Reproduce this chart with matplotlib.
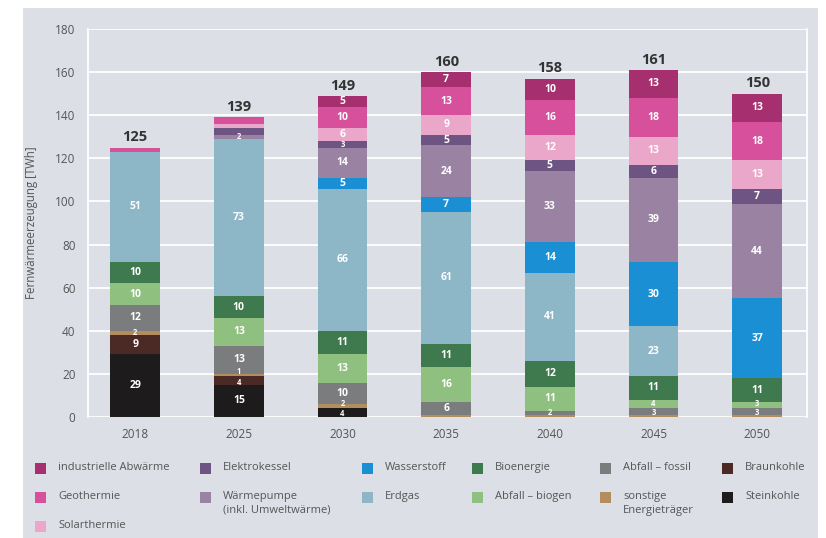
import matplotlib
matplotlib.use("Agg")
import matplotlib.pyplot as plt
from matplotlib.patches import Rectangle
import numpy as np

plt.rcParams['font.family'] = ['Open Sans', 'DejaVu Sans']

years = ["2018", "2025", "2030", "2035", "2040", "2045", "2050"]
totals = [125, 139, 149, 160, 158, 161, 150]

# series, bottom to top
steinkohle   = [29, 15, 4, 0, 0, 0, 0]
braunkohle   = [9, 4, 0, 0, 0, 0, 0]
sonstige     = [2, 1, 2, 1, 1, 1, 1]
abfall_foss  = [12, 13, 10, 6, 2, 3, 3]
abfall_bio   = [10, 13, 13, 16, 11, 4, 3]
bioenergie   = [10, 10, 11, 11, 12, 11, 11]
erdgas       = [51, 73, 66, 61, 41, 23, 0]
wasserstoff  = [0, 0, 5, 7, 14, 30, 37]
waermepumpe  = [0, 2, 14, 24, 33, 39, 44]
elektro      = [0, 3, 3, 5, 5, 6, 7]
solar        = [0, 2, 6, 9, 12, 13, 13]
geothermie   = [2, 3, 10, 13, 16, 18, 18]
industrie    = [0, 0, 5, 7, 10, 13, 13]

series = [
    ("Steinkohle", steinkohle, "#1e1b1d"),
    ("Braunkohle", braunkohle, "#4b2a26"),
    ("sonstige\nEnergieträger", sonstige, "#b38d5d"),
    ("Abfall – fossil", abfall_foss, "#7b7c7e"),
    ("Abfall – biogen", abfall_bio, "#8fc07f"),
    ("Bioenergie", bioenergie, "#3f7a4f"),
    ("Erdgas", erdgas, "#8db6c7"),
    ("Wasserstoff", wasserstoff, "#1a8fd3"),
    ("Wärmepumpe\n(inkl. Umweltwärme)", waermepumpe, "#9a82a3"),
    ("Elektrokessel", elektro, "#6d5482"),
    ("Solarthermie", solar, "#eba7ca"),
    ("Geothermie", geothermie, "#d6509b"),
    ("industrielle Abwärme", industrie, "#a62f6f"),
]

# (series index, year index) segments drawn without a value label
unlabeled = {(11, 0), (11, 1), (10, 1), (9, 1), (2, 3), (2, 4), (2, 5), (2, 6)}
# small vertical nudges (data units) for crowded tiny labels
nudge = {(2, 1): 1.6, (1, 1): -1.0, (2, 2): 1.4, (0, 2): -0.6,
         (3, 6): -0.6, (4, 6): 0.8, (3, 5): -0.4, (4, 5): 0.4}

W, H = 826, 538
fig = plt.figure(figsize=(W / 100, H / 100), dpi=100, facecolor="white")
bg = "#dcdfe6"
fig.patches.append(Rectangle((23 / W, 0), (818 - 23) / W, (H - 8) / H,
                             transform=fig.transFigure, facecolor=bg,
                             edgecolor="none", zorder=-10))

ax = fig.add_axes([88 / W, 1 - 417 / H, (807 - 88) / W, (417 - 29) / H])
ax.set_zorder(2)
ax.set_facecolor(bg)
ax.set_xlim(-0.455, 6.48)
ax.set_ylim(0, 180)
ax.set_yticks(np.arange(0, 181, 20))
ax.yaxis.grid(True, color="white", linewidth=1.3)
ax.set_axisbelow(True)
for s in ["top", "bottom"]:
    ax.spines[s].set_visible(False)
for s in ["left", "right"]:
    ax.spines[s].set_color("white")
    ax.spines[s].set_linewidth(1.3)
ax.tick_params(axis="both", length=0, labelsize=8.5, colors="#555555")
ax.tick_params(axis="y", pad=9)
ax.tick_params(axis="x", pad=8)
x = np.arange(len(years))
ax.set_xticks(x)
ax.set_xticklabels(years)
ax.set_ylabel("Fernwärmeerzeugung [TWh]", fontsize=8.3, color="#555555", labelpad=12)

bottom = np.zeros(len(years))
bw = 0.48
for si, (name, vals, col) in enumerate(series):
    vals = np.array(vals, dtype=float)
    ax.bar(x, vals, bw, bottom=bottom, color=col, edgecolor="none", zorder=2)
    for yi, v in enumerate(vals):
        if v > 0 and (si, yi) not in unlabeled:
            fs = 7.5 if v >= 5 else 5.5
            yy = bottom[yi] + v / 2 + nudge.get((si, yi), 0)
            ax.text(x[yi], yy, f"{int(v)}", ha="center", va="center",
                    color="white", fontsize=fs, fontweight="bold", zorder=3)
    bottom += vals

for yi, t in enumerate(totals):
    ax.text(x[yi], bottom[yi] + 1.5, str(t), ha="center", va="bottom",
            fontsize=10.5, fontweight="bold", color="#333333")

# legend (manual layout)
legend_rows = [
    ["industrielle Abwärme", "Elektrokessel", "Wasserstoff", "Bioenergie", "Abfall – fossil", "Braunkohle"],
    ["Geothermie", "Wärmepumpe\n(inkl. Umweltwärme)", "Erdgas", "Abfall – biogen", "sonstige\nEnergieträger", "Steinkohle"],
    ["Solarthermie"],
]
colmap = {n: c for n, _, c in series}
col_x = [35, 200, 362, 472, 600, 722]
row_y = [468, 497, 526]
sq = 11
for ri, row in enumerate(legend_rows):
    for ci, name in enumerate(row):
        px, py = col_x[ci], row_y[ri]
        fig.patches.append(Rectangle((px / W, 1 - (py + sq / 2) / H), sq / W, sq / H,
                                     transform=fig.transFigure, facecolor=colmap[name],
                                     edgecolor="none", zorder=1))
        fig.text((px + 23) / W, 1 - (py - 6) / H, name, ha="left", va="top",
                 fontsize=8, color="#555555", linespacing=1.35)

fig.savefig("out.png", dpi=100, facecolor="white")
